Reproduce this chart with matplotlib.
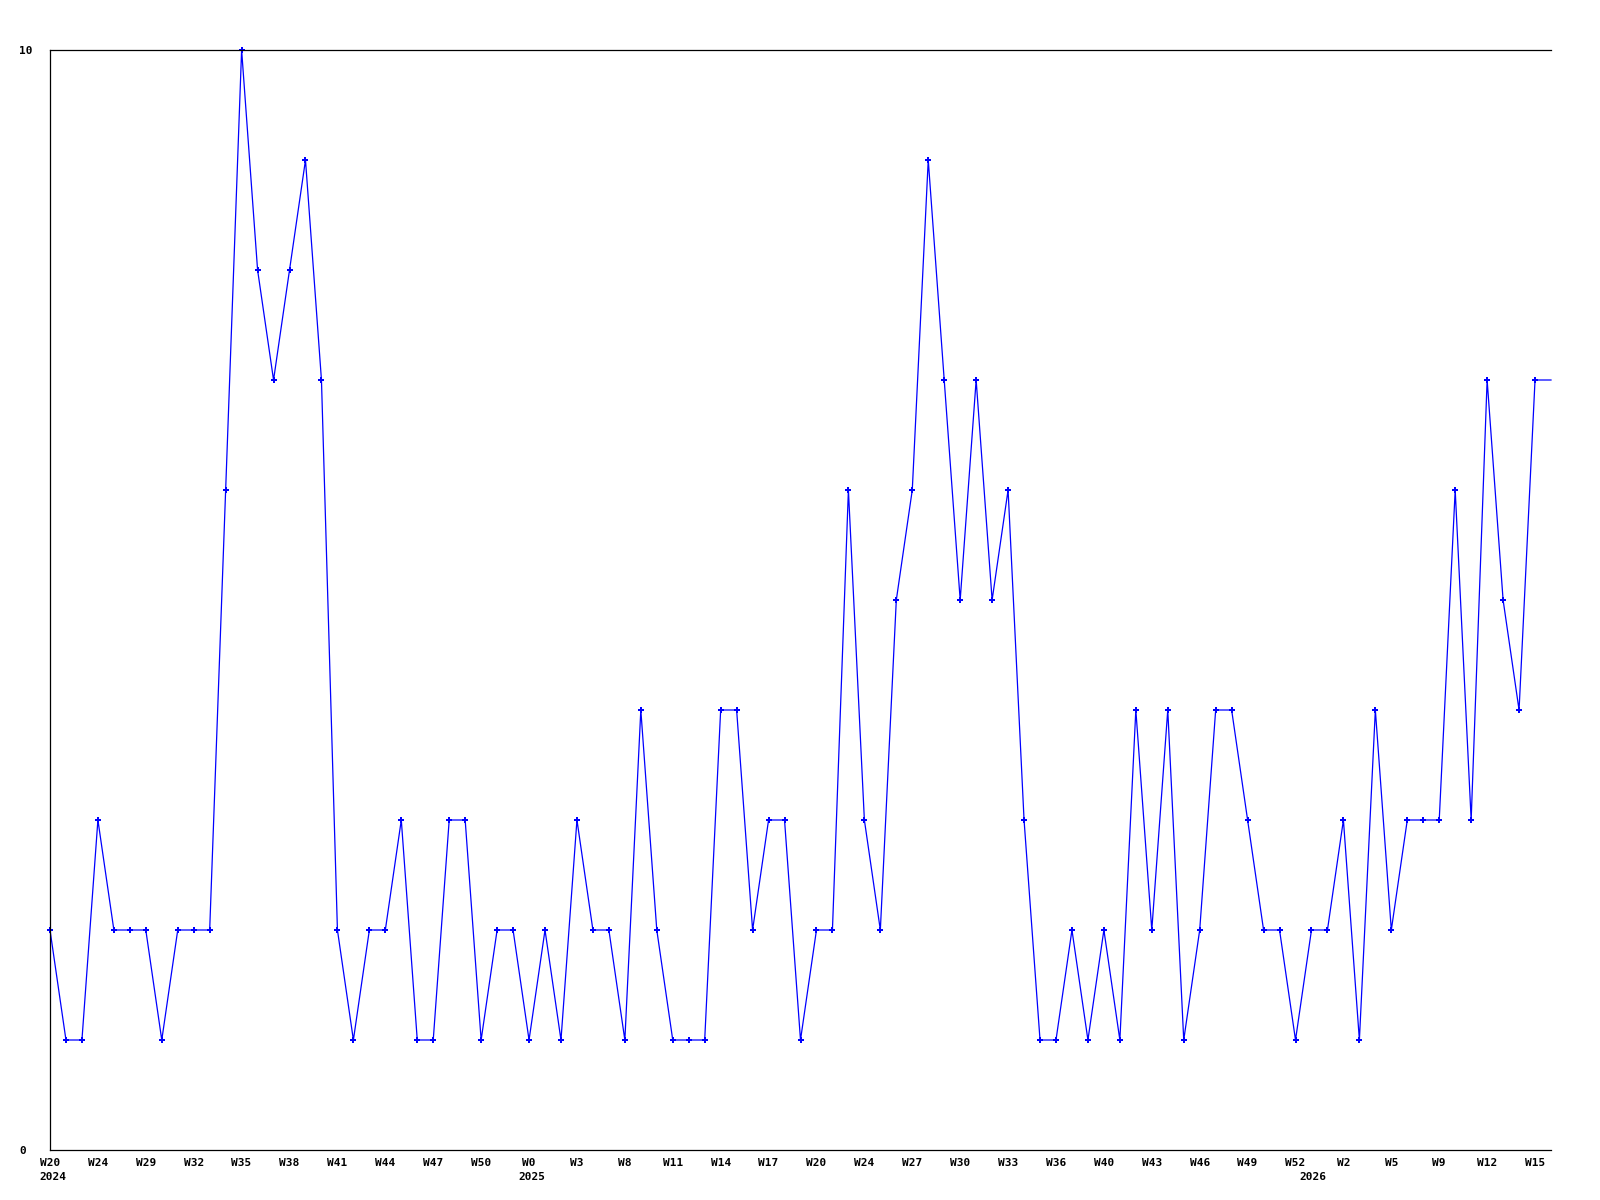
import numpy as np
import matplotlib
matplotlib.use('Agg')
from matplotlib import pyplot as plt

# weekly counts, last entry is the running week (drawn without a marker)
values = [2, 1, 1, 3, 2, 2, 2, 1, 2, 2, 2, 6, 10, 8, 7, 8, 9, 7, 2, 1,
          2, 2, 3, 1, 1, 3, 3, 1, 2, 2, 1, 2, 1, 3, 2, 2, 1, 4, 2, 1,
          1, 1, 4, 4, 2, 3, 3, 1, 2, 2, 6, 3, 2, 5, 6, 9, 7, 5, 7, 5,
          6, 3, 1, 1, 2, 1, 2, 1, 4, 2, 4, 1, 2, 4, 4, 3, 2, 2, 1, 2,
          2, 3, 1, 4, 2, 3, 3, 3, 6, 3, 7, 5, 4, 7, 7]

week_labels = ['W20', 'W24', 'W29', 'W32', 'W35', 'W38', 'W41', 'W44',
               'W47', 'W50', 'W0', 'W3', 'W8', 'W11', 'W14', 'W17',
               'W20', 'W24', 'W27', 'W30', 'W33', 'W36', 'W40', 'W43',
               'W46', 'W49', 'W52', 'W2', 'W5', 'W9', 'W12', 'W15']
tick_step = 3

years = ['2024', '2025', '2026']
year_pos = [0.2, 30.2, 79.1]

font = dict(family='DejaVu Sans Mono', weight='bold', size=8)

x = np.arange(len(values))

fig = plt.figure(figsize=[16, 12], dpi=100)
ax = fig.add_axes([50/1600, 1 - 1150/1200, 1501/1600, 1100/1200])

ax.plot(x, values, '-', color='#0000ff', lw=0.9, clip_on=False)
ax.plot(x[:-1], values[:-1], 'P', color='#0000ff', ms=4, mew=0, clip_on=False)

ax.set_xlim(0, len(values) - 1)
ax.set_ylim(0, 10)

ax.set_xticks(x[::tick_step][:len(week_labels)])
ax.set_xticklabels(week_labels, **font)
ax.set_yticks([0, 10])
ax.set_yticklabels(['0', '10'], **font)
for lab in ax.get_yticklabels():
    lab.set_horizontalalignment('left')
ax.tick_params(axis='x', length=0, pad=6)
ax.tick_params(axis='y', length=0, pad=22)

for yr, pos in zip(years, year_pos):
    ax.annotate(yr, xy=(pos, 0), xycoords=('data', 'axes fraction'),
                xytext=(0, -16), textcoords='offset points',
                ha='center', va='top', **font)

ax.spines.right.set_visible(False)
for s in ['left', 'top', 'bottom']:
    ax.spines[s].set_linewidth(0.9)
    ax.spines[s].set_color('black')

fig.savefig('out.png', dpi=100)
